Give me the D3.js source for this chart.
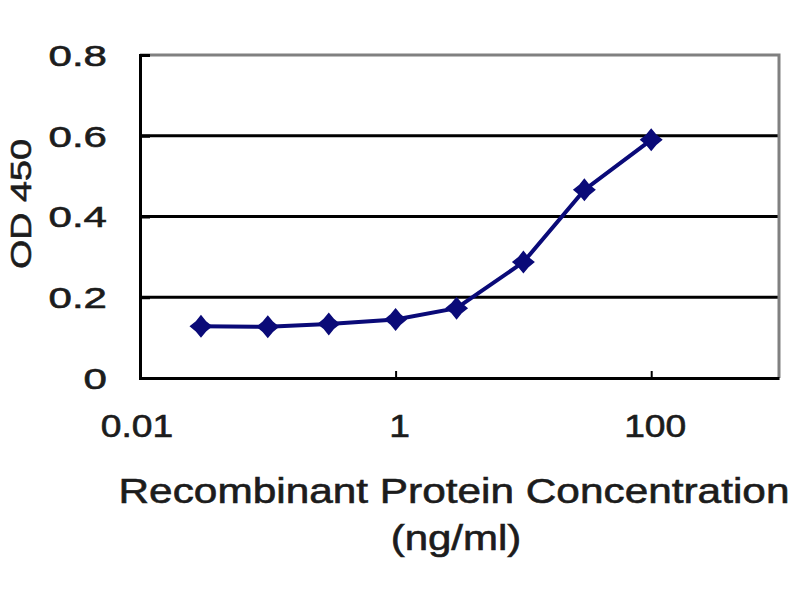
<!DOCTYPE html>
<html>
<head>
<meta charset="utf-8">
<script src="https://cdn.jsdelivr.net/npm/d3@7"></script>
<style>
  body { margin: 0; background: #fff; }
  text { font-family: "Liberation Sans", Arial, sans-serif; fill: #1c1c1c; stroke: #1c1c1c; stroke-width: 0.6; }
</style>
</head>
<body>
<svg id="chart" width="800" height="600"></svg>
<script>
// data
const concentration = [0.03, 0.1, 0.3, 1, 3, 10, 30, 100];
const od450 = [0.128, 0.127, 0.134, 0.145, 0.173, 0.287, 0.466, 0.590];
const xTicks = [0.01, 1, 100];
const xTickLabels = ['0.01', '1', '100'];
const yTicks = [0, 0.2, 0.4, 0.6, 0.8];
const yTickLabels = ['0', '0.2', '0.4', '0.6', '0.8'];
const xTitle = 'Recombinant Protein Concentration';
const xUnit = '(ng/ml)';
const yTitle = 'OD 450';

const margin = { top: 55, right: 21, bottom: 222, left: 140 };
const svg = d3.select('#chart');
const W = +svg.attr('width');
const H = +svg.attr('height');

const x = d3.scaleLog()
  .domain([0.01, 1000])
  .range([margin.left, W - margin.right]);

const y = d3.scaleLinear()
  .domain([0, 0.8])
  .range([H - margin.bottom, margin.top]);

// stretch text horizontally like the reference
const stretch = (sel, k) => sel.each(function () {
  const len = this.getComputedTextLength();
  d3.select(this).attr('textLength', len * k).attr('lengthAdjust', 'spacingAndGlyphs');
});

// gridlines
svg.append('g')
  .selectAll('line')
  .data(yTicks.filter(d => d > 0 && d < 0.8))
  .enter().append('line')
  .attr('x1', x(0.01)).attr('x2', x(1000))
  .attr('y1', d => y(d)).attr('y2', d => y(d))
  .attr('stroke', '#000').attr('stroke-width', 3);

// top and right border (grey)
svg.append('path')
  .attr('d', `M${x(0.01)},${y(0.8)}H${x(1000)}V${y(0)}`)
  .attr('fill', 'none')
  .attr('stroke', '#808080')
  .attr('stroke-width', 3);

// x axis
svg.append('g')
  .attr('transform', `translate(0,${y(0)})`)
  .call(d3.axisTop(x).tickValues(xTicks).tickSize(7).tickSizeOuter(0).tickFormat(''))
  .call(g => g.selectAll('line').attr('stroke', '#000').attr('stroke-width', 2))
  .call(g => g.select('.domain').attr('stroke', '#000').attr('stroke-width', 3));

// y axis
svg.append('g')
  .attr('transform', `translate(${x(0.01)},0)`)
  .call(d3.axisRight(y).tickValues(yTicks).tickSize(10).tickFormat(''))
  .call(g => g.selectAll('line').attr('stroke', '#000').attr('stroke-width', 3))
  .call(g => g.select('.domain').attr('stroke', '#000').attr('stroke-width', 3));

// tick labels
svg.append('g')
  .selectAll('text')
  .data(xTicks)
  .enter().append('text')
  .attr('x', (d, i) => x(d) + (i === 0 ? -3 : 4))
  .attr('y', 437)
  .attr('text-anchor', 'middle')
  .style('font-size', '31px')
  .text((d, i) => xTickLabels[i])
  .call(stretch, 1.2);

svg.append('g')
  .selectAll('text')
  .data(yTicks)
  .enter().append('text')
  .attr('x', 107)
  .attr('y', d => y(d))
  .attr('dy', '0.36em')
  .attr('text-anchor', 'end')
  .style('font-size', '30px')
  .text((d, i) => yTickLabels[i])
  .call(stretch, 1.4);

// axis titles
svg.append('text')
  .attr('x', 454)
  .attr('y', 503)
  .attr('text-anchor', 'middle')
  .style('font-size', '35px')
  .text(xTitle)
  .call(stretch, 1.21);

svg.append('text')
  .attr('x', 456)
  .attr('y', 550)
  .attr('text-anchor', 'middle')
  .style('font-size', '35px')
  .text(xUnit)
  .call(stretch, 1.2);

svg.append('text')
  .attr('transform', 'translate(31,204)rotate(-90)')
  .attr('text-anchor', 'middle')
  .style('font-size', '29px')
  .text(yTitle)
  .call(stretch, 1.3);

// series
const pts = concentration.map((c, i) => [c, od450[i]]);

svg.append('path')
  .datum(pts)
  .attr('fill', 'none')
  .attr('stroke', '#0a0a78')
  .attr('stroke-width', 4)
  .attr('d', d3.line().x(d => x(d[0])).y(d => y(d[1])));

// four-pointed marker
const star4 = { draw(ctx, size) {
  const r = Math.sqrt(size) / 2, q = r * 0.45;
  ctx.moveTo(0, -r);
  ctx.lineTo(q, -q);
  ctx.lineTo(r, 0);
  ctx.lineTo(q, q);
  ctx.lineTo(0, r);
  ctx.lineTo(-q, q);
  ctx.lineTo(-r, 0);
  ctx.lineTo(-q, -q);
  ctx.closePath();
} };

svg.append('g')
  .selectAll('path')
  .data(pts)
  .enter().append('path')
  .attr('transform', d => `translate(${x(d[0])},${y(d[1])})`)
  .attr('d', d3.symbol().type(star4).size(23 * 23))
  .attr('fill', '#0a0a78');
</script>
</body>
</html>
